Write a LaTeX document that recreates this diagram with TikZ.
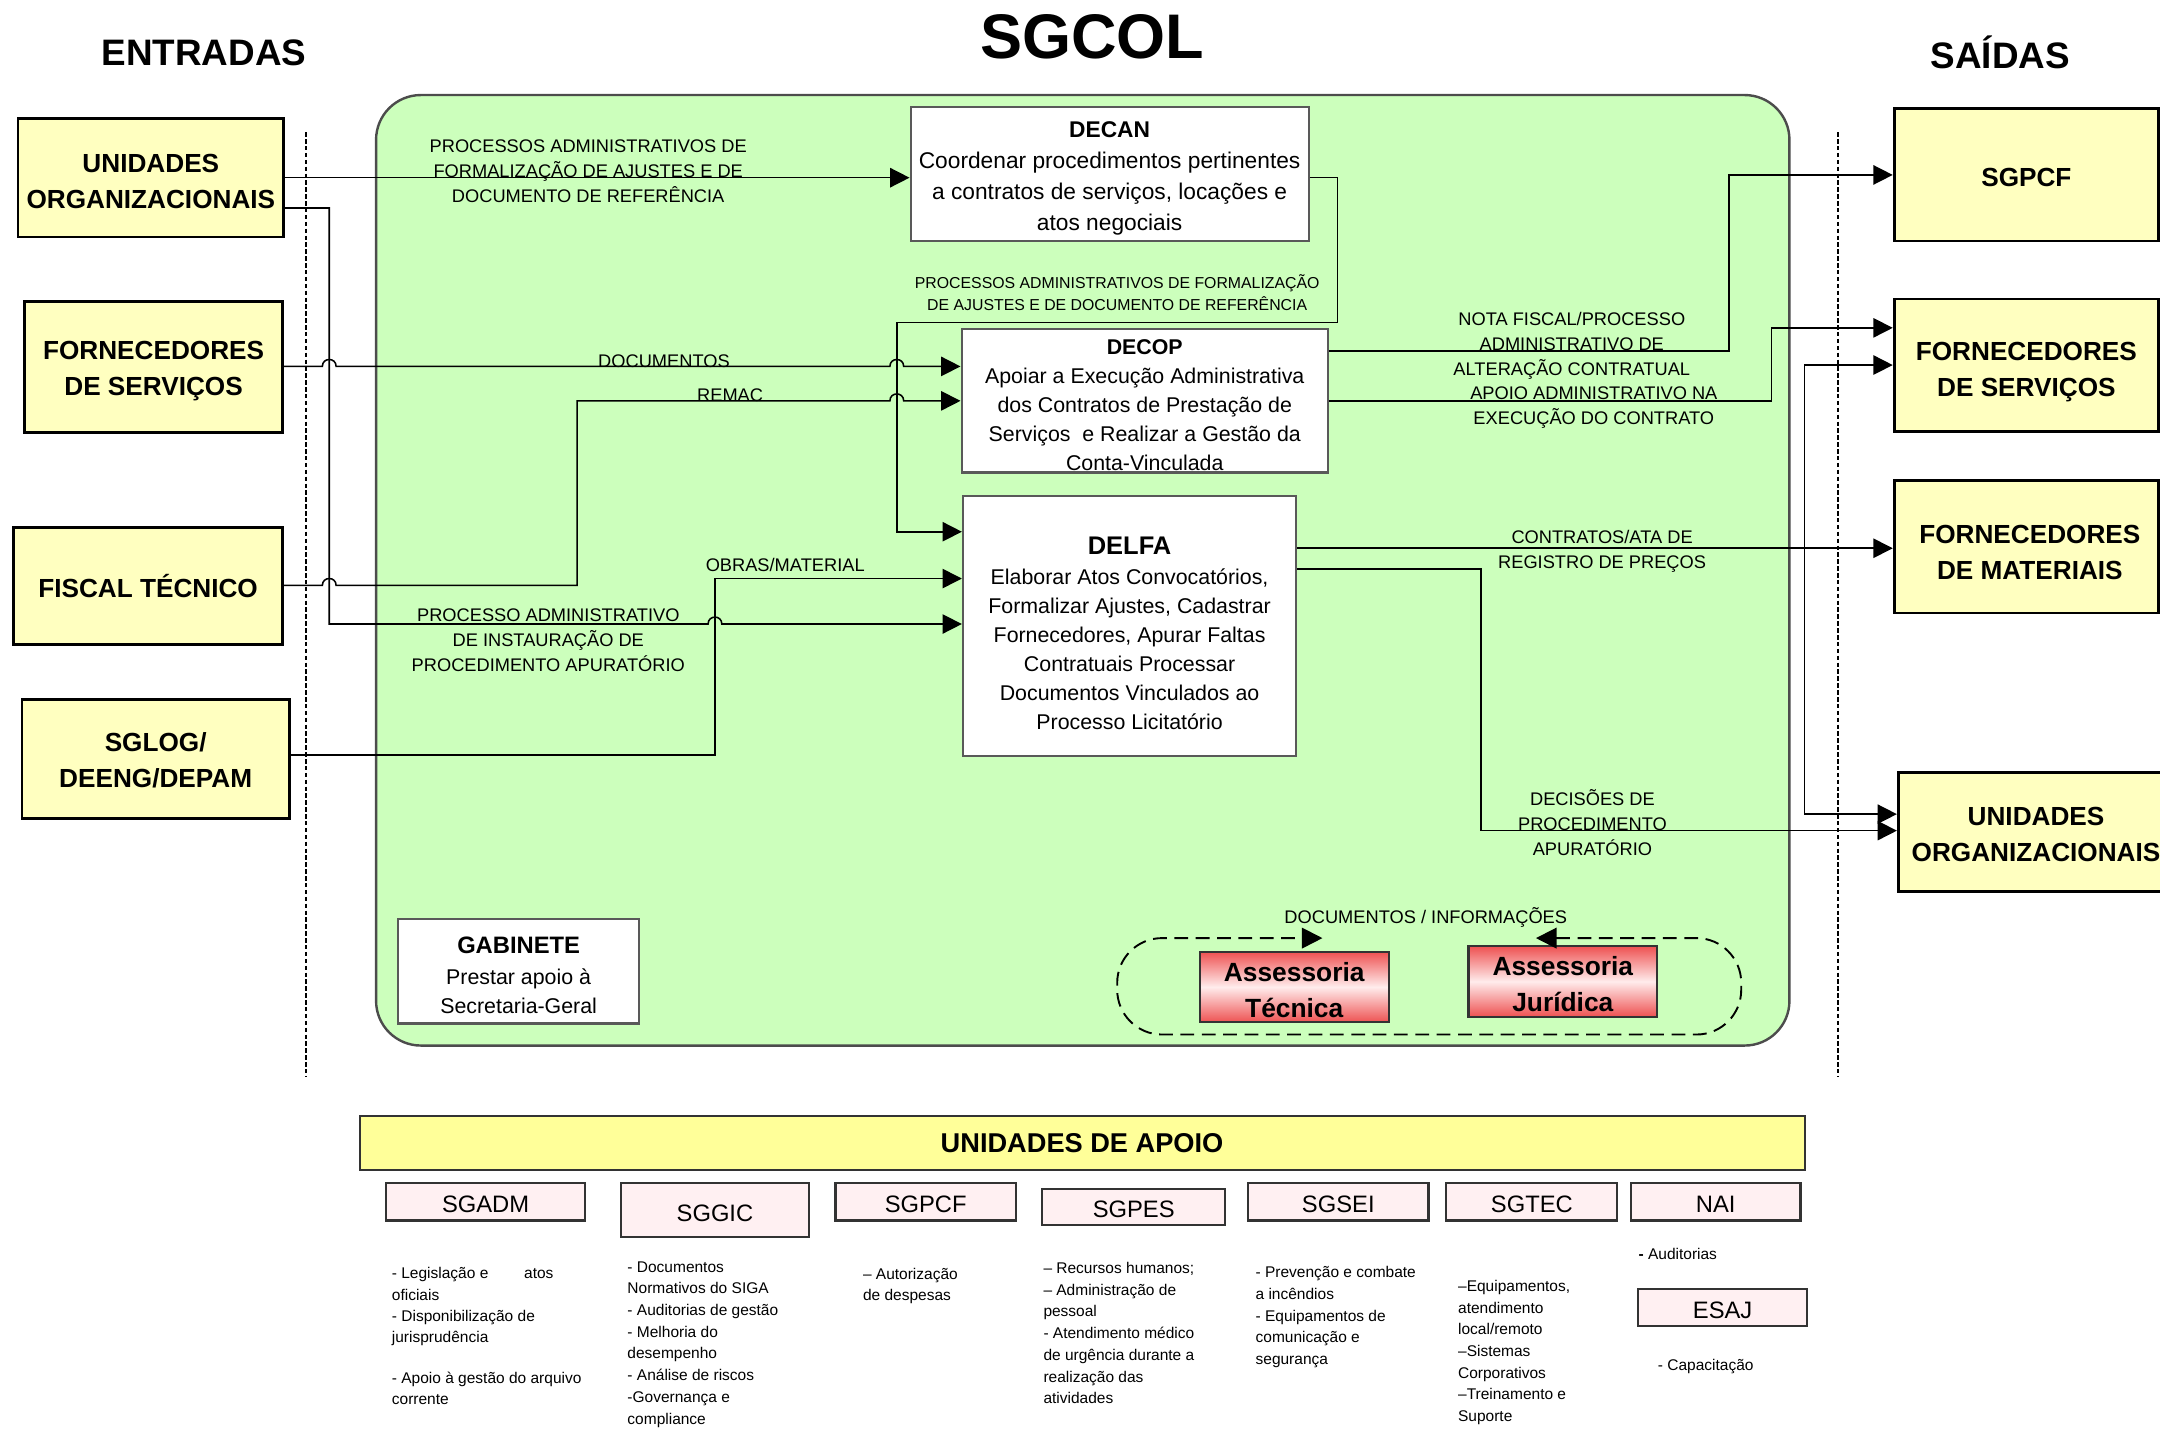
\documentclass[tikz,border=0pt]{standalone}
\usepackage{fontspec}
\setmainfont{Liberation Sans}
\usetikzlibrary{arrows.meta}
\newcommand\pu{0.4pt}
\definecolor{gfill}{RGB}{204,255,188}
\definecolor{yfill}{RGB}{255,255,192}
\definecolor{ybar}{RGB}{255,255,153}
\definecolor{pfill}{RGB}{255,240,242}
\definecolor{asred}{RGB}{238,82,82}
\definecolor{aspale}{RGB}{255,236,236}
\begin{document}
\begin{tikzpicture}[x=0.4pt,y=-0.4pt,
  iobox/.style={draw=black, line width=0.8pt, fill=yfill, inner sep=0pt},
  iotext/.style={inner sep=0pt, align=center, font=\fontsize{7.6}{10.4}\selectfont\bfseries},
  unitbox/.style={draw=black!65, line width=0.6pt, fill=white, inner sep=0pt},
  utext/.style={inner sep=0pt, align=center, font=\fontsize{6.2}{8.4}\selectfont},
  lbl/.style={inner sep=0pt, align=center, font=\fontsize{5.3}{7.3}\selectfont},
  slbl/.style={inner sep=0pt, align=center, font=\fontsize{4.6}{6.2}\selectfont},
  flow/.style={line width=0.45pt, -{Triangle[length=5.6pt,width=5.6pt]}},
  asbox/.style={draw=black!80, line width=0.6pt, top color=asred, bottom color=asred, middle color=aspale, inner sep=0pt},
  astext/.style={inner sep=0pt, align=center, font=\fontsize{7.65}{10.4}\selectfont\bfseries},
  apbox/.style={draw=black!80, line width=0.6pt, fill=pfill, inner sep=0pt},
  aptext/.style={inner sep=0pt, font=\fontsize{6.9}{8}\selectfont},
  bul/.style={inner sep=0pt, align=left, anchor=north west, font=\fontsize{4.5}{6.3}\selectfont},
  sepline/.style={line width=0.6pt, dash pattern=on 1.3pt off 0.7pt},
  ttl/.style={inner sep=0pt, font=\fontsize{10.7}{12}\selectfont\bfseries}
]
\useasboundingbox (0,0) rectangle (1568,1037);

% titles
\node[inner sep=0pt, font=\fontsize{18.3}{20}\selectfont\bfseries] (tsgcol) at (793,27) {SGCOL};
\node[ttl] (tent) at (148,38) {ENTRADAS};
\node[ttl] (tsai) at (1452,38) {SAÍDAS};

% main area
\draw[draw=black!70, line width=0.7pt, fill=gfill, rounded corners=13pt] (273,69) rectangle (1299,759);
\draw[sepline] (222,96) -- (222,782);
\draw[sepline] (1334,96) -- (1334,782);

% input boxes
\node[iobox, minimum width=193*\pu, minimum height=86*\pu,
  label={[iotext, yshift=-1.2pt, name=inUOt]center:{UNIDADES\\ORGANIZACIONAIS}}] (inUO) at (109.5,129) {};
\node[iobox, minimum width=187*\pu, minimum height=95*\pu,
  label={[iotext, yshift=-1.2pt, name=inFSt]center:{FORNECEDORES\\DE SERVIÇOS}}] (inFS) at (111.5,266.5) {};
\node[iobox, minimum width=195*\pu, minimum height=85*\pu,
  label={[iotext, name=inFTt]center:{FISCAL TÉCNICO}}] (inFT) at (107.5,425.5) {};
\node[iobox, minimum width=194*\pu, minimum height=86*\pu,
  label={[iotext, yshift=-0.4pt, name=inSGt]center:{SGLOG/\\DEENG/DEPAM}}] (inSG) at (113,551) {};

% output boxes
\node[iobox, minimum width=192*\pu, minimum height=96*\pu,
  label={[iotext, yshift=-0.8pt, name=outSGPCFt]center:{SGPCF}}] (outSGPCF) at (1471,127) {};
\node[iobox, minimum width=192*\pu, minimum height=96*\pu,
  label={[iotext, yshift=-2pt, name=outFSt]center:{FORNECEDORES\\DE SERVIÇOS}}] (outFS) at (1471,265) {};
\node[iobox, minimum width=192*\pu, minimum height=96*\pu,
  label={[iotext, yshift=-1.6pt, xshift=1pt, name=outFMt]center:{FORNECEDORES\\DE MATERIAIS}}] (outFM) at (1471,397) {};
\node[iobox, minimum width=200*\pu, minimum height=86*\pu,
  label={[iotext, yshift=-0.8pt, name=outUOt]center:{UNIDADES\\ORGANIZACIONAIS}}] (outUO) at (1478,604) {};

% units
\node[unitbox, minimum width=289*\pu, minimum height=97*\pu,
  label={[utext, font=\fontsize{6.6}{9}\selectfont, yshift=-1.2pt, name=DECANt]center:{\textbf{DECAN}\\Coordenar procedimentos pertinentes\\a contratos de serviços, locações e\\atos negociais}}] (DECAN) at (805.5,126.5) {};
\node[unitbox, minimum width=266*\pu, minimum height=104*\pu,
  label={[utext, yshift=-1.2pt, name=DECOPt]center:{\textbf{DECOP}\\Apoiar a Execução Administrativa\\dos Contratos de Prestação de\\Serviços\ \ e Realizar a Gestão da\\Conta-Vinculada}}] (DECOP) at (831,291) {};
\node[unitbox, minimum width=242*\pu, minimum height=189*\pu,
  label={[utext, yshift=-2pt, name=DELFAt]center:{{\fontsize{7.4}{9}\selectfont\bfseries DELFA}\\[0.4pt]Elaborar Atos Convocatórios,\\Formalizar Ajustes, Cadastrar\\Fornecedores, Apurar Faltas\\Contratuais Processar\\Documentos Vinculados ao\\Processo Licitatório}}] (DELFA) at (820,454.5) {};
\node[unitbox, minimum width=175*\pu, minimum height=76*\pu,
  label={[utext, yshift=-1.2pt, name=GABt]center:{{\fontsize{6.9}{8.4}\selectfont\bfseries GABINETE}\\[0.4pt]Prestar apoio à\\Secretaria-Geral}}] (GAB) at (376.5,705) {};

% assessorias
\node[asbox, minimum width=137*\pu, minimum height=51*\pu,
  label={[astext, yshift=-0.8pt, name=ATt]center:{Assessoria\\Técnica}}] (AT) at (939.5,716.5) {};
\node[asbox, minimum width=137*\pu, minimum height=51*\pu,
  label={[astext, yshift=-0.8pt, name=AJt]center:{Assessoria\\Jurídica}}] (AJ) at (1134.5,712.5) {};
\coordinate (dJ) at (1115,681);
\coordinate (dT) at (960,681);
\draw[line width=0.55pt, dash pattern=on 4pt off 2.2pt, rounded corners=13pt,
  {Triangle[length=6pt,width=6pt]}-{Triangle[length=6pt,width=6pt]}]
  (dJ) -- (1264,681) -- (1264,751) -- (811,751) -- (811,681) -- (dT);
\node[lbl] (ldoc) at (1035,666) {DOCUMENTOS / INFORMAÇÕES};

% connectors
\draw[flow] (inUO.east) -- (inUO.east -| DECAN.west);
\node[lbl] (l1) at (427,124.5) {PROCESSOS ADMINISTRATIVOS DE\\FORMALIZAÇÃO DE AJUSTES E DE\\DOCUMENTO DE REFERÊNCIA};

\draw[flow] (inUO.east |- 0,151) -- (239,151) -- (239,453) -- (514,453)
  .. controls (514,446.3) and (524,446.3) .. (524,453) -- (DELFA.west |- 0,453);
\node[lbl] (l2) at (398,465) {PROCESSO ADMINISTRATIVO\\DE INSTAURAÇÃO DE\\PROCEDIMENTO APURATÓRIO};

\draw[flow] (inFS.east |- 0,266) -- (234,266)
  .. controls (234,259.3) and (244,259.3) .. (244,266) -- (646,266)
  .. controls (646,259.3) and (656,259.3) .. (656,266) -- (DECOP.west |- 0,266);
\node[lbl] (l3) at (482,262) {DOCUMENTOS};

\draw[flow] (inFT.east |- 0,425) -- (234,425)
  .. controls (234,418.3) and (244,418.3) .. (244,425) -- (419,425) -- (419,291) -- (646,291)
  .. controls (646,284.3) and (656,284.3) .. (656,291) -- (DECOP.west |- 0,291);
\node[lbl] (l4) at (530,287) {REMAC};

\draw[flow] (inSG.east |- 0,548) -- (519,548) -- (519,420) -- (DELFA.west |- 0,420);
\node[lbl] (l5) at (570,410) {OBRAS/MATERIAL};

\draw[flow] (DECAN.east |- 0,129) -- (971,129) -- (971,234) -- (651,234) -- (651,386) -- (DELFA.west |- 0,386);
\node[slbl] (l6) at (811,212.5) {PROCESSOS ADMINISTRATIVOS DE FORMALIZAÇÃO\\DE AJUSTES E DE DOCUMENTO DE REFERÊNCIA};

\draw[flow] (DECOP.east |- 0,255) -- (1255,255) -- (1255,127) -- (outSGPCF.west);
\node[lbl] (l7) at (1141,251) {NOTA FISCAL/PROCESSO\\ADMINISTRATIVO DE\\ALTERAÇÃO CONTRATUAL};

\draw[flow] (DECOP.east |- 0,291) -- (1286,291) -- (1286,238) -- (outFS.west |- 0,238);
\node[lbl] (l8) at (1157,296) {APOIO ADMINISTRATIVO NA\\EXECUÇÃO DO CONTRATO};

\draw[flow] (DELFA.east |- 0,398) -- (outFM.west |- 0,398);
\node[lbl] (l9) at (1163,400) {CONTRATOS/ATA DE\\REGISTRO DE PREÇOS};

\draw[flow] (DELFA.east |- 0,413) -- (1075,413) -- (1075,603) -- (outUO.west |- 0,603);
\node[lbl] (l10) at (1156,597) {DECISÕES DE\\PROCEDIMENTO\\APURATÓRIO};

\draw[line width=0.45pt, {Triangle[length=5.6pt,width=5.6pt]}-{Triangle[length=5.6pt,width=5.6pt]}]
  (outFS.west |- 0,265) -- (1310,265) -- (1310,591) -- (outUO.west |- 0,591);

% support units
\node[draw=black!80, line width=0.6pt, fill=ybar, inner sep=0pt, minimum width=1049*\pu, minimum height=39*\pu,
  font=\fontsize{7.9}{9}\selectfont\bfseries] (apoio) at (785.5,829.5) {UNIDADES DE APOIO};
\node[apbox, minimum width=145*\pu, minimum height=27*\pu, label={[aptext, yshift=-0.8pt, name=sgadmt]center:SGADM}] (sgadm) at (352.5,872.5) {};
\node[apbox, minimum width=136*\pu, minimum height=39*\pu, label={[aptext, yshift=-0.8pt, name=sggict]center:SGGIC}] (sggic) at (519,878.5) {};
\node[apbox, minimum width=131*\pu, minimum height=27*\pu, label={[aptext, yshift=-0.8pt, name=sgpcft]center:SGPCF}] (sgpcf) at (672,872.5) {};
\node[apbox, minimum width=133*\pu, minimum height=26*\pu, label={[aptext, yshift=-0.8pt, name=sgpest]center:SGPES}] (sgpes) at (823,876) {};
\node[apbox, minimum width=131*\pu, minimum height=27*\pu, label={[aptext, yshift=-0.8pt, name=sgseit]center:SGSEI}] (sgsei) at (971.5,872.5) {};
\node[apbox, minimum width=124*\pu, minimum height=27*\pu, label={[aptext, yshift=-0.8pt, name=sgtect]center:SGTEC}] (sgtec) at (1112,872.5) {};
\node[apbox, minimum width=123*\pu, minimum height=27*\pu, label={[aptext, yshift=-0.8pt, name=nait]center:NAI}] (nai) at (1245.5,872.5) {};
\node[apbox, minimum width=123*\pu, minimum height=27*\pu, label={[aptext, yshift=-0.8pt, name=esajt]center:ESAJ}] (esaj) at (1250.5,949) {};

\node[bul, font=\fontsize{4.5}{6.2}\selectfont] (bADM) at (284,917) {\strut- Legislação e\hspace{10.4pt}atos\\oficiais\\- Disponibilização de\\jurisprudência\\[5.6pt]- Apoio à gestão do arquivo\\corrente};
\node[bul] (bGIC) at (455,912) {\strut- Documentos\\Normativos do SIGA\\- Auditorias de gestão\\- Melhoria do\\desempenho\\- Análise de riscos\\-Governança e\\compliance};
\node[bul] (bPCF) at (626,917) {\strut– Autorização\\de despesas};
\node[bul] (bPES) at (757,913) {\strut– Recursos humanos;\\– Administração de\\pessoal\\- Atendimento médico\\de urgência durante a\\realização das\\atividades};
\node[bul] (bSEI) at (911,916) {\strut- Prevenção e combate\\a incêndios\\- Equipamentos de\\comunicação e\\segurança};
\node[bul, font=\fontsize{4.5}{6.3}\selectfont] (bTEC) at (1058,926) {\strut–Equipamentos,\\atendimento\\local/remoto\\–Sistemas\\Corporativos\\–Treinamento e\\Suporte};
\node[bul] (bNAI) at (1189,903) {\strut\textbf{-} Auditorias};
\node[bul] (bESAJ) at (1203,983) {\strut- Capacitação};
\end{tikzpicture}
\end{document}
